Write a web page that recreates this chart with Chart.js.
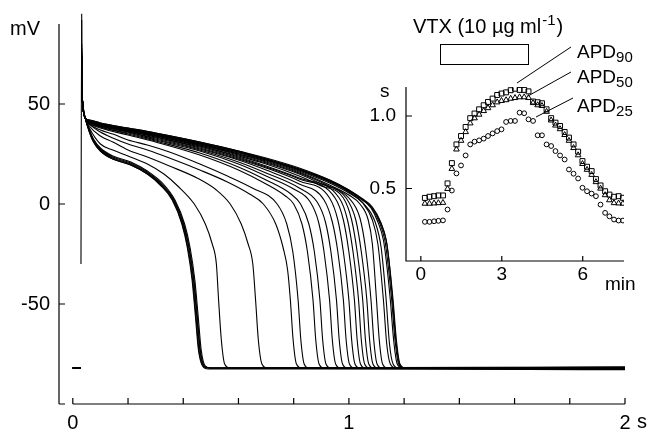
<!DOCTYPE html>
<html>
<head>
<meta charset="utf-8">
<script src="https://cdn.jsdelivr.net/npm/chart.js@4.4.0/dist/chart.umd.min.js"></script>
<style>
  html, body { margin: 0; padding: 0; background: #fff; }
  #wrap { position: relative; width: 648px; height: 429px; }
  #main { position: absolute; left: 0; top: 0; }
  #inset { position: absolute; left: 360px; top: 0; }
</style>
</head>
<body>
<div id="wrap">
  <canvas id="main" width="648" height="429"></canvas>
  <canvas id="inset" width="288" height="300"></canvas>
</div>
<script>
// ---- main panel: superimposed action potentials (time in s, membrane potential in mV) ----
const restMv = -82;
const spikePeaks = [72, 70, 74, 71, 73, 75, 78, 72, 80, 70, 74, 76, 73, 95, 71, 72, 74, 77, 70, 73, 75, 92, 71, 74, 72, 70, 73];
const restTailMv = [-82.5, -82, -81.5, -82.8, -82, -81.8, -82.4, -82, -81.6, -82.6, -82, -81.9, -82.3, -82, -81.7, -82.5, -82, -82.2, -81.8, -82.4, -82, -82.6, -81.9, -82.1, -82.3, -81.7, -82];

const ap01 = [[0.06,36],[0.075,31],[0.1,26.5],[0.145,22.5],[0.21,19.5],[0.27,15],[0.32,9],[0.36,2],[0.395,-10],[0.415,-22],[0.432,-38],[0.444,-56],[0.455,-73],[0.47,-81],[0.49,-82.5]];
const ap02 = [[0.06,36.5],[0.075,31.5],[0.1,27],[0.145,23],[0.21,20],[0.27,15.5],[0.322,9.5],[0.362,2],[0.397,-10],[0.417,-22],[0.434,-38],[0.446,-56],[0.457,-73],[0.472,-81],[0.49,-82]];
const ap03 = [[0.06,36],[0.075,31],[0.1,26.5],[0.145,22.5],[0.21,19.5],[0.27,15],[0.324,9],[0.365,2],[0.4,-10],[0.42,-22],[0.437,-38],[0.449,-56],[0.46,-73],[0.475,-81],[0.495,-82]];
const ap04 = [[0.06,37],[0.075,32],[0.1,27.5],[0.145,23.5],[0.21,20.5],[0.27,16],[0.326,9.5],[0.367,2],[0.402,-10],[0.422,-22],[0.439,-38],[0.451,-56],[0.462,-73],[0.477,-81],[0.497,-82]];
const ap05 = [[0.06,37],[0.075,32.5],[0.1,28],[0.145,24],[0.21,21],[0.27,16.5],[0.328,10],[0.37,2],[0.405,-10],[0.425,-22],[0.442,-38],[0.454,-56],[0.465,-73],[0.48,-81],[0.5,-82]];
const ap06 = [[0.06,38],[0.1,30],[0.145,27],[0.2,24],[0.27,20],[0.33,15],[0.38,9],[0.44,0],[0.48,-10],[0.505,-20],[0.52,-30],[0.528,-48],[0.538,-68],[0.55,-80],[0.57,-82]];
const ap07 = [[0.06,39],[0.1,34],[0.145,31],[0.2,27],[0.27,23.5],[0.35,19],[0.45,13],[0.52,7],[0.57,0],[0.61,-10],[0.635,-20],[0.652,-30],[0.662,-48],[0.672,-68],[0.685,-80],[0.705,-82]];
const ap08 = [[0.06,40],[0.1,36],[0.145,33],[0.2,30],[0.27,27],[0.35,23],[0.46,17],[0.56,11],[0.64,5],[0.69,0],[0.735,-10],[0.762,-22],[0.778,-33],[0.788,-48],[0.798,-68],[0.81,-80],[0.83,-82]];
const ap09 = [[0.06,40],[0.1,37],[0.145,35],[0.2,32],[0.27,29.5],[0.35,26],[0.46,20],[0.56,14],[0.65,8],[0.74,0],[0.775,-10],[0.797,-24],[0.816,-48],[0.826,-68],[0.838,-80],[0.855,-82]];
const ap10 = [[0.06,40.5],[0.1,38],[0.2,34.5],[0.3,31],[0.46,24.5],[0.6,17],[0.7,10],[0.77,4],[0.8,0],[0.83,-10],[0.85,-24],[0.87,-48],[0.88,-68],[0.892,-80],[0.91,-82]];
const ap11 = [[0.06,40.5],[0.1,38.5],[0.2,35],[0.3,31.5],[0.46,25.5],[0.6,18.5],[0.7,12],[0.79,5],[0.825,0],[0.855,-10],[0.875,-24],[0.895,-48],[0.905,-68],[0.917,-80],[0.935,-82]];
const ap12 = [[0.06,41],[0.1,38.5],[0.2,35.5],[0.3,32],[0.46,26.5],[0.6,20],[0.7,14],[0.8,7.5],[0.86,1],[0.89,-9],[0.91,-24],[0.93,-48],[0.94,-68],[0.952,-80],[0.97,-82]];
const ap13 = [[0.06,41],[0.1,39],[0.2,36],[0.3,32.5],[0.46,27],[0.6,21],[0.7,15.5],[0.82,8],[0.885,1],[0.915,-9],[0.935,-24],[0.955,-48],[0.965,-68],[0.977,-80],[0.995,-82]];
const ap14 = [[0.06,41],[0.1,39],[0.2,36],[0.3,33],[0.46,27.5],[0.6,22],[0.7,17],[0.82,10],[0.91,2],[0.94,-9],[0.96,-24],[0.98,-48],[0.99,-68],[1.002,-80],[1.02,-82]];
const ap15 = [[0.06,41],[0.1,39],[0.2,36.5],[0.3,33.5],[0.46,28],[0.6,22.5],[0.7,18],[0.82,11.5],[0.93,3],[0.96,-8],[0.98,-24],[1.0,-48],[1.01,-68],[1.022,-80],[1.04,-82]];
const ap16 = [[0.06,41],[0.1,39.5],[0.2,36.5],[0.3,33.5],[0.46,28.5],[0.6,23],[0.7,18.5],[0.82,12.5],[0.95,3],[0.98,-8],[1.0,-24],[1.02,-48],[1.03,-68],[1.042,-80],[1.06,-82]];
const ap17 = [[0.06,41],[0.1,39.5],[0.2,36.5],[0.3,34],[0.46,29],[0.6,23.5],[0.7,19],[0.82,13],[0.965,3],[0.995,-8],[1.015,-24],[1.035,-48],[1.045,-68],[1.057,-80],[1.075,-82]];
const ap18 = [[0.06,41],[0.1,39.5],[0.2,37],[0.3,34],[0.46,29],[0.6,24],[0.7,20],[0.82,14],[0.9,9],[0.98,3],[1.01,-8],[1.03,-24],[1.05,-48],[1.06,-68],[1.072,-80],[1.09,-82]];
const ap19 = [[0.06,41],[0.1,39.5],[0.2,37],[0.3,34.5],[0.46,29.5],[0.6,24.5],[0.7,20.5],[0.82,15],[0.9,10],[0.99,3],[1.025,-8],[1.045,-24],[1.065,-48],[1.075,-68],[1.087,-80],[1.105,-82]];
const ap20 = [[0.06,41],[0.1,39.5],[0.2,37],[0.3,34.5],[0.46,29.5],[0.6,25],[0.7,21],[0.82,15.5],[0.92,9.5],[1.0,3],[1.04,-7],[1.06,-22],[1.08,-48],[1.09,-68],[1.102,-80],[1.12,-82]];
const ap21 = [[0.06,41.5],[0.1,40],[0.2,37],[0.3,34.5],[0.46,30],[0.6,25],[0.7,21.5],[0.82,16],[0.93,9.5],[1.0,4.5],[1.04,0],[1.07,-8],[1.085,-20],[1.1,-48],[1.11,-68],[1.122,-80],[1.14,-82]];
const ap22 = [[0.06,41.5],[0.1,40],[0.2,37.5],[0.3,35],[0.46,30],[0.6,25.5],[0.7,22],[0.82,16.5],[0.93,10.5],[1.0,5.5],[1.05,0.5],[1.085,-8],[1.105,-20],[1.125,-48],[1.137,-70],[1.15,-80],[1.17,-82]];
const ap23 = [[0.06,41.5],[0.1,40],[0.2,37.5],[0.3,35],[0.46,30.5],[0.6,26],[0.7,22],[0.82,17],[0.93,11],[1.0,6],[1.055,0],[1.095,-9],[1.117,-22],[1.135,-48],[1.147,-70],[1.16,-80],[1.18,-82]];
const ap24 = [[0.06,41.5],[0.1,40],[0.2,37.5],[0.3,35],[0.46,30.5],[0.6,26],[0.7,22.5],[0.82,17],[0.93,11.5],[1.0,6.5],[1.04,3],[1.08,-2],[1.105,-9],[1.125,-18],[1.135,-28],[1.15,-48],[1.162,-68],[1.175,-80],[1.195,-82]];
const ap25 = [[0.06,42],[0.1,40.5],[0.2,38],[0.3,35.5],[0.46,31],[0.6,26.5],[0.7,22.5],[0.82,17.5],[0.93,11.5],[1.0,6.5],[1.04,3],[1.08,-1.5],[1.11,-9],[1.13,-18],[1.14,-28],[1.155,-48],[1.167,-68],[1.18,-80],[1.2,-82]];
const ap26 = [[0.06,42],[0.1,40.5],[0.2,38],[0.3,35.5],[0.46,31],[0.6,26.5],[0.7,23],[0.82,18],[0.93,12],[1.0,7],[1.045,3],[1.085,-1.5],[1.115,-9],[1.135,-18],[1.145,-28],[1.16,-48],[1.172,-68],[1.185,-80],[1.205,-82]];
const ap27 = [[0.06,41.5],[0.1,40],[0.2,37.5],[0.3,35],[0.46,30.5],[0.6,26],[0.7,22.5],[0.82,17.5],[0.93,12],[1.0,7],[1.045,2.5],[1.085,-2],[1.115,-9.5],[1.135,-18],[1.145,-28],[1.158,-48],[1.17,-68],[1.183,-80],[1.2,-82]];

const sweeps = [ap01, ap02, ap03, ap04, ap05, ap06, ap07, ap08, ap09, ap10, ap11, ap12, ap13, ap14,
  ap15, ap16, ap17, ap18, ap19, ap20, ap21, ap22, ap23, ap24, ap25, ap26, ap27];

const xTickMarks = [0, 0.2, 0.4, 0.6, 0.8, 1, 1.2, 1.4, 1.6, 1.8, 2];
const xTickLabels = [0, 1, 2];
const yTickMarks = [-100, -50, 0, 50];
const yTickLabels = [-50, 0, 50];

// ---- inset: APD time course ----
const minutes = [0.15,0.32,0.49,0.65,0.82,0.99,1.15,1.32,1.49,1.66,1.83,1.99,2.16,2.33,2.49,2.66,2.83,2.99,3.16,3.33,3.49,3.66,3.83,3.99,4.16,4.33,4.49,4.66,4.83,4.99,5.16,5.33,5.49,5.66,5.83,5.99,6.16,6.33,6.49,6.66,6.83,6.99,7.16,7.33,7.49];
const apd90 = [0.435,0.443,0.447,0.452,0.452,0.535,0.675,0.804,0.862,0.924,0.985,1.017,1.046,1.074,1.097,1.12,1.145,1.155,1.163,1.178,1.188,1.18,1.18,1.17,1.10,1.095,1.088,1.046,0.985,0.954,0.931,0.89,0.851,0.804,0.754,0.689,0.65,0.62,0.565,0.521,0.481,0.458,0.443,0.447,0.436];
const apd50 = [0.396,0.396,0.398,0.40,0.402,0.498,0.636,0.77,0.83,0.89,0.95,0.985,1.01,1.035,1.055,1.075,1.095,1.105,1.11,1.12,1.125,1.13,1.13,1.125,1.09,1.075,1.07,1.03,0.97,0.935,0.91,0.87,0.83,0.78,0.73,0.67,0.63,0.595,0.545,0.50,0.455,0.42,0.40,0.398,0.396];
const apd25 = [0.27,0.27,0.274,0.277,0.28,0.355,0.486,0.604,0.659,0.728,0.804,0.823,0.832,0.844,0.862,0.88,0.896,0.908,0.959,0.966,0.966,1.023,1.019,0.977,0.966,0.867,0.867,0.804,0.793,0.758,0.728,0.70,0.631,0.602,0.569,0.505,0.481,0.465,0.447,0.389,0.332,0.308,0.286,0.279,0.279];
const vtxOn = 0.7;
const vtxOff = 3.95;
const insetXTicks = [0, 3, 6];
const insetYTicks = [0.5, 1.0];

const FONT = "'Liberation Sans', Arial, sans-serif";

function upstroke(i) {
  const pts = [[0, restMv], [0.029, restMv], [0.0293, null]];
  if (i === 13) pts.push([0.0296, -30]);
  pts.push([0.0322, spikePeaks[i]], [0.0328, Math.min(spikePeaks[i], 62)], [0.036, 50], [0.045, 43]);
  return pts;
}

const mainDatasets = sweeps.map((s, i) => ({
  data: upstroke(i).concat(s, [[2.0, restTailMv[i]]]).map(p => ({ x: p[0], y: p[1] })),
  borderColor: '#000',
  borderWidth: 1.1,
  pointRadius: 0,
  cubicInterpolationMode: 'monotone',
  spanGaps: false,
  clip: false
}));

const mainAxes = {
  id: 'mainAxes',
  afterDraw(chart) {
    const { ctx, chartArea: a, scales: { x, y } } = chart;
    ctx.save();
    ctx.strokeStyle = '#000';
    ctx.lineWidth = 1.2;
    ctx.beginPath();
    ctx.moveTo(a.left, a.top);
    ctx.lineTo(a.left, a.bottom);
    ctx.moveTo(x.getPixelForValue(0), a.bottom);
    ctx.lineTo(x.getPixelForValue(2), a.bottom);
    yTickMarks.forEach(v => {
      const py = y.getPixelForValue(v);
      ctx.moveTo(a.left, py);
      ctx.lineTo(a.left + 6, py);
    });
    xTickMarks.forEach(v => {
      const px = x.getPixelForValue(v);
      ctx.moveTo(px, a.bottom);
      ctx.lineTo(px, a.bottom - 6);
    });
    ctx.stroke();
    ctx.fillStyle = '#000';
    ctx.font = '20px ' + FONT;
    ctx.textAlign = 'left';
    ctx.textBaseline = 'alphabetic';
    ctx.fillText('mV', 10, 35);
    ctx.fillText('s', x.getPixelForValue(2) + 12, 428);
    ctx.restore();
  }
};

new Chart(document.getElementById('main'), {
  type: 'line',
  data: { datasets: mainDatasets },
  options: {
    responsive: false,
    animation: false,
    devicePixelRatio: 1,
    events: [],
    layout: { padding: { top: 24, right: 23, bottom: 0, left: 0 } },
    plugins: { legend: { display: false }, tooltip: { enabled: false } },
    scales: {
      x: {
        type: 'linear', min: -0.05, max: 2.0,
        grid: { display: false, drawTicks: false },
        border: { display: false },
        afterBuildTicks: ax => { ax.ticks = xTickLabels.map(v => ({ value: v })); },
        afterFit: ax => { ax.height = 25; },
        ticks: { color: '#000', padding: 7, maxRotation: 0, font: { family: FONT, size: 20 } }
      },
      y: {
        type: 'linear', min: -100, max: 90,
        grid: { display: false, drawTicks: false },
        border: { display: false },
        afterBuildTicks: ax => { ax.ticks = yTickLabels.map(v => ({ value: v })); },
        afterFit: ax => { ax.width = 59; },
        ticks: { color: '#000', padding: 9, font: { family: FONT, size: 20 } }
      }
    }
  },
  plugins: [mainAxes]
});

// ---- inset chart ----
const insetDecor = {
  id: 'insetDecor',
  afterDraw(chart) {
    const { ctx, chartArea: a, scales: { x, y } } = chart;
    ctx.save();
    ctx.strokeStyle = '#000';
    ctx.lineWidth = 1.2;
    ctx.beginPath();
    ctx.moveTo(a.left, a.top);
    ctx.lineTo(a.left, a.bottom);
    ctx.lineTo(a.right, a.bottom);
    insetYTicks.forEach(v => {
      const py = y.getPixelForValue(v);
      ctx.moveTo(a.left, py);
      ctx.lineTo(a.left + 6, py);
    });
    insetXTicks.forEach(v => {
      const px = x.getPixelForValue(v);
      ctx.moveTo(px, a.bottom);
      ctx.lineTo(px, a.bottom - 5);
    });
    ctx.stroke();

    // drug application bar
    ctx.lineWidth = 1;
    const bx0 = x.getPixelForValue(vtxOn), bx1 = x.getPixelForValue(vtxOff);
    ctx.strokeRect(Math.round(bx0) + 0.5, a.top - 42.5, Math.round(bx1 - bx0), 20);

    // leader lines to the series labels
    ctx.beginPath();
    ctx.moveTo(211, 47); ctx.lineTo(157, 83);
    ctx.moveTo(211, 72); ctx.lineTo(168, 96);
    ctx.moveTo(213, 98); ctx.lineTo(176, 117);
    ctx.stroke();

    ctx.fillStyle = '#000';
    ctx.textBaseline = 'alphabetic';
    ctx.textAlign = 'left';
    ctx.font = '20px ' + FONT;
    let tx = 53;
    const head = 'VTX (10 \u00b5g ml';
    ctx.fillText(head, tx, 33);
    tx += ctx.measureText(head).width;
    ctx.font = '15px ' + FONT;
    ctx.fillText('-1', tx + 1, 25);
    tx += ctx.measureText('-1').width + 2;
    ctx.font = '20px ' + FONT;
    ctx.fillText(')', tx, 33);

    [['90', 58], ['50', 83], ['25', 112]].forEach(([sub, base]) => {
      ctx.font = '19px ' + FONT;
      ctx.fillText('APD', 217, base);
      const w = ctx.measureText('APD').width;
      ctx.font = '15px ' + FONT;
      ctx.fillText(sub, 217 + w, base + 4);
    });

    ctx.font = '19px ' + FONT;
    ctx.fillText('s', 20, 97);
    ctx.fillText('min', 245, 290);
    ctx.restore();
  }
};

const markerBase = { showLine: false, borderColor: '#000', backgroundColor: 'rgba(0,0,0,0)', borderWidth: 1 };
const toXY = vals => vals.map((v, i) => ({ x: minutes[i], y: v }));

new Chart(document.getElementById('inset'), {
  type: 'scatter',
  data: {
    datasets: [
      Object.assign({ label: 'APD90', data: toXY(apd90), pointStyle: 'rect', pointRadius: 3.5 }, markerBase),
      Object.assign({ label: 'APD50', data: toXY(apd50), pointStyle: 'triangle', pointRadius: 3.3 }, markerBase),
      Object.assign({ label: 'APD25', data: toXY(apd25), pointStyle: 'circle', pointRadius: 2.4 }, markerBase)
    ]
  },
  options: {
    responsive: false,
    animation: false,
    devicePixelRatio: 1,
    events: [],
    layout: { padding: { top: 87, right: 24, bottom: 0, left: 0 } },
    plugins: { legend: { display: false }, tooltip: { enabled: false } },
    scales: {
      x: {
        type: 'linear', min: -0.55, max: 7.53,
        grid: { display: false, drawTicks: false },
        border: { display: false },
        afterBuildTicks: ax => { ax.ticks = insetXTicks.map(v => ({ value: v })); },
        afterFit: ax => { ax.height = 39; },
        ticks: { color: '#000', padding: 2, maxRotation: 0, font: { family: FONT, size: 19 } }
      },
      y: {
        type: 'linear', min: 0, max: 1.2,
        grid: { display: false, drawTicks: false },
        border: { display: false },
        afterBuildTicks: ax => { ax.ticks = insetYTicks.map(v => ({ value: v })); },
        afterFit: ax => { ax.width = 46; },
        ticks: { color: '#000', padding: 10, font: { family: FONT, size: 19 }, callback: v => v.toFixed(1) }
      }
    }
  },
  plugins: [insetDecor]
});
</script>
</body>
</html>
